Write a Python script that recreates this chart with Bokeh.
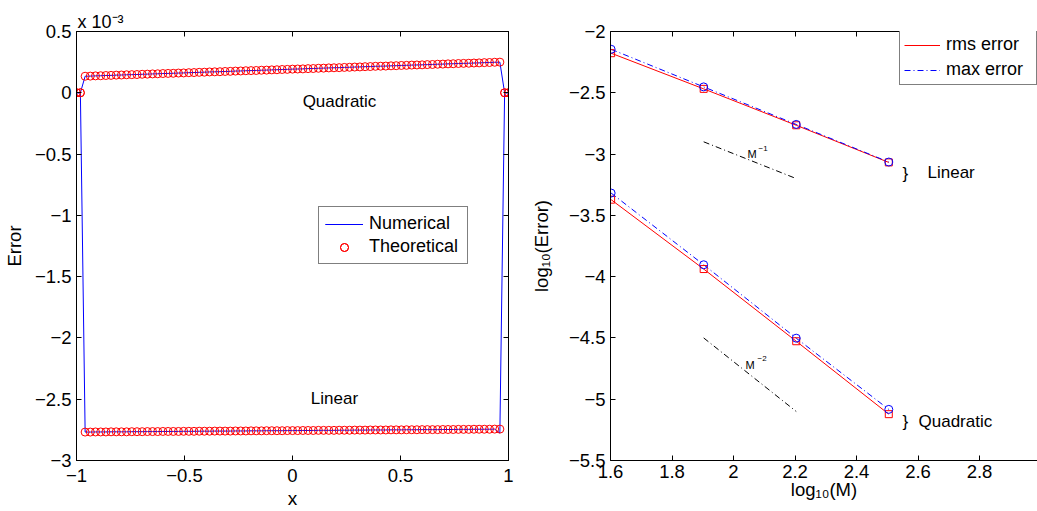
from math import pi
from bokeh.plotting import figure
from bokeh.layouts import row
from bokeh.models import (Range1d, FixedTicker, LinearAxis, Label, Legend, LegendItem,
                          CustomJSTickFormatter)
from bokeh.embed import file_html
from bokeh.resources import INLINE

FONT = "Liberation Sans"

# ---------------- data: left panel (errors in units of 1e-3) ----------------
x_boundary_left = [-1.0, -0.982]
x_boundary_right = [0.982, 1.0]
x_interior = [
    -0.960, -0.936, -0.912, -0.888, -0.864, -0.840, -0.816, -0.792, -0.768, -0.744,
    -0.720, -0.696, -0.672, -0.648, -0.624, -0.600, -0.576, -0.552, -0.528, -0.504,
    -0.480, -0.456, -0.432, -0.408, -0.384, -0.360, -0.336, -0.312, -0.288, -0.264,
    -0.240, -0.216, -0.192, -0.168, -0.144, -0.120, -0.096, -0.072, -0.048, -0.024,
    0.000,
    0.024, 0.048, 0.072, 0.096, 0.120, 0.144, 0.168, 0.192, 0.216, 0.240,
    0.264, 0.288, 0.312, 0.336, 0.360, 0.384, 0.408, 0.432, 0.456, 0.480,
    0.504, 0.528, 0.552, 0.576, 0.600, 0.624, 0.648, 0.672, 0.696, 0.720,
    0.744, 0.768, 0.792, 0.816, 0.840, 0.864, 0.888, 0.912, 0.936, 0.960,
]
boundary_err = [0.0, 0.0]
quad_theory = [
    0.135, 0.136, 0.138, 0.139, 0.141, 0.142, 0.144, 0.145, 0.147, 0.148,
    0.149, 0.151, 0.152, 0.154, 0.155, 0.157, 0.158, 0.159, 0.161, 0.162,
    0.164, 0.165, 0.167, 0.168, 0.170, 0.171, 0.172, 0.174, 0.175, 0.177,
    0.178, 0.180, 0.181, 0.182, 0.184, 0.185, 0.187, 0.188, 0.190, 0.191,
    0.193, 0.194, 0.195, 0.197, 0.198, 0.200, 0.201, 0.203, 0.204, 0.205,
    0.207, 0.208, 0.210, 0.211, 0.213, 0.214, 0.216, 0.217, 0.218, 0.220,
    0.221, 0.223, 0.224, 0.226, 0.227, 0.228, 0.230, 0.231, 0.233, 0.234,
    0.236, 0.237, 0.239, 0.240, 0.241, 0.243, 0.244, 0.246, 0.247, 0.249,
    0.250,
]
lin_theory = [
    -2.768, -2.768, -2.767, -2.767, -2.767, -2.766, -2.766, -2.766, -2.766, -2.765,
    -2.765, -2.765, -2.764, -2.764, -2.764, -2.763, -2.763, -2.763, -2.763, -2.762,
    -2.762, -2.762, -2.761, -2.761, -2.761, -2.760, -2.760, -2.760, -2.760, -2.759,
    -2.759, -2.759, -2.758, -2.758, -2.758, -2.757, -2.757, -2.757, -2.757, -2.756,
    -2.756, -2.756, -2.755, -2.755, -2.755, -2.754, -2.754, -2.754, -2.754, -2.753,
    -2.753, -2.753, -2.752, -2.752, -2.752, -2.751, -2.751, -2.751, -2.751, -2.750,
    -2.750, -2.750, -2.749, -2.749, -2.749, -2.748, -2.748, -2.748, -2.748, -2.747,
    -2.747, -2.747, -2.746, -2.746, -2.746, -2.745, -2.745, -2.745, -2.745, -2.744,
    -2.744,
]
quad_numerical = quad_theory
lin_numerical_last = -2.776  # numerical curve dips at the right end
left_xticks = [-1, -0.5, 0, 0.5, 1]
left_yticks = [-3, -2.5, -2, -1.5, -1, -0.5, 0, 0.5]

# ---------------- data: right panel (log10 errors) ----------------
log_M = [1.602, 1.903, 2.204, 2.505]
lin_rms = [-2.177, -2.468, -2.765, -3.068]
lin_max = [-2.145, -2.452, -2.758, -3.065]
quad_rms = [-3.372, -3.938, -4.527, -5.122]
quad_max = [-3.318, -3.903, -4.502, -5.083]
slope_x = [1.903, 2.204]
slope1_y = [-2.9, -3.2]
slope2_y = [-4.5, -5.1]
right_xticks = [1.6, 1.8, 2.0, 2.2, 2.4, 2.6, 2.8]
right_yticks = [-5.5, -5, -4.5, -4, -3.5, -3, -2.5, -2]

# ---------------- helpers ----------------
fmt_code = "return (tick < 0 ? '\\u2212' : '') + Math.abs(tick).toString();"
blank_code = "return '';"


def style_axis(ax, ticks, label_size="18.5px", standoff=5, show_labels=True):
    ax.ticker = FixedTicker(ticks=ticks)
    ax.major_tick_in = 5
    ax.major_tick_out = 0
    ax.minor_tick_line_color = None
    ax.axis_line_color = "black"
    ax.major_tick_line_color = "black"
    ax.major_label_text_color = "black"
    ax.major_label_text_font = FONT
    ax.axis_label_text_font = FONT
    ax.axis_label_text_font_style = "normal"
    ax.axis_label_text_color = "black"
    ax.axis_label_text_font_size = "18.5px"
    ax.major_label_text_font_size = label_size
    if show_labels:
        ax.formatter = CustomJSTickFormatter(code=fmt_code)
        ax.major_label_standoff = standoff
    else:
        ax.formatter = CustomJSTickFormatter(code=blank_code)
        ax.major_label_standoff = 0


def add_label(p, x, y, text, size, align="left", baseline="alphabetic", angle=0):
    p.add_layout(Label(x=x, y=y, text=text, text_font=FONT, text_font_size=size,
                       text_color="black", text_align=align,
                       text_baseline=baseline, angle=angle))


def style_legend(lg, loc, pad, spacing, gw, lw):
    lg.location = loc
    lg.margin = 0
    lg.padding = pad
    lg.spacing = spacing
    lg.glyph_width = gw
    lg.glyph_height = 20
    lg.label_height = 20
    lg.label_width = lw
    lg.label_standoff = 6
    lg.label_text_font = FONT
    lg.label_text_font_size = "18px"
    lg.label_text_color = "black"
    lg.border_line_color = "black"
    lg.border_line_width = 1
    lg.background_fill_color = "white"
    lg.background_fill_alpha = 1.0


# ================= left figure =================
p1 = figure(width=520, height=511, x_range=Range1d(-1, 1), y_range=Range1d(-3, 0.5),
            output_backend="svg", toolbar_location=None,
            title="x 10\u207b\u00b3",
            min_border_left=76, min_border_right=12, min_border_top=31,
            min_border_bottom=48)
p1.title.align = "left"
p1.title.offset = 1
p1.title.standoff = 0
p1.title.text_font = FONT
p1.title.text_font_size = "18px"
p1.title.text_font_style = "normal"
p1.title.text_color = "black"
p1.grid.visible = False
p1.outline_line_color = "black"
p1.background_fill_color = "white"
p1.border_fill_color = "white"
style_axis(p1.xaxis[0], left_xticks, standoff=8)
style_axis(p1.yaxis[0], left_yticks, standoff=5)
p1.xaxis[0].axis_label = "x"
p1.xaxis[0].axis_label_standoff = 3
p1.xaxis[0].axis_label_text_font_size = "19px"
p1.yaxis[0].axis_label = "Error"
p1.yaxis[0].axis_label_standoff = 7
top1 = LinearAxis()
style_axis(top1, left_xticks, show_labels=False)
p1.add_layout(top1, "above")
right1 = LinearAxis()
style_axis(right1, left_yticks, show_labels=False)
p1.add_layout(right1, "right")

x_all = x_boundary_left + x_interior + x_boundary_right
quad_num_all = boundary_err + quad_numerical + boundary_err
lin_num_all = boundary_err + lin_theory[:-1] + [lin_numerical_last] + boundary_err
quad_th_all = boundary_err + quad_theory + boundary_err
lin_th_all = boundary_err + lin_theory + boundary_err

p1.line(x_all, quad_num_all, line_color="#0000ff", line_width=1, legend_label="Numerical")
p1.line(x_all, lin_num_all, line_color="#0000ff", line_width=1, legend_label="Numerical")
p1.scatter(x_all, quad_th_all, marker="circle", size=8, fill_color=None,
           line_color="#ff0000", line_width=1, legend_label="Theoretical")
p1.scatter(x_all, lin_th_all, marker="circle", size=8, fill_color=None,
           line_color="#ff0000", line_width=1, legend_label="Theoretical")

style_legend(p1.legend[0], (242, 196), 6, 2, 38, 92)


def L(px, py):
    return (-1 + (px - 76) / 216.0, 0.5 - (py - 31) / (432 / 3.5))


add_label(p1, *L(339, 101), "Quadratic", "17px", align="center", baseline="middle")
add_label(p1, *L(334, 401), "Linear", "17px", align="center", baseline="middle")

# ================= right figure =================
p2 = figure(width=517, height=511, x_range=Range1d(1.6, 1.6 + 427 / 307.5),
            y_range=Range1d(-5.5, -2),
            output_backend="svg", toolbar_location=None,
            min_border_left=90, min_border_right=0, min_border_top=27,
            min_border_bottom=51)
p2.grid.visible = False
p2.outline_line_color = None
p2.background_fill_color = "white"
p2.border_fill_color = "white"
style_axis(p2.xaxis[0], right_xticks, standoff=4)
style_axis(p2.yaxis[0], right_yticks, standoff=5)
p2.xaxis[0].axis_label = "log\u2081\u2080(M)"
p2.xaxis[0].axis_label_standoff = -2
p2.yaxis[0].axis_label = "log\u2081\u2080(Error)"
p2.yaxis[0].axis_label_standoff = 14
top2 = LinearAxis()
style_axis(top2, right_xticks, show_labels=False)
p2.add_layout(top2, "above")

p2.line(slope_x, slope1_y, line_color="black", line_width=1, line_dash="6 3 1 3")
p2.line(slope_x, slope2_y, line_color="black", line_width=1, line_dash="6 3 1 3")
r_rms = p2.line(log_M, lin_rms, line_color="#ff0000", line_width=1)
r_max = p2.line(log_M, lin_max, line_color="#0000ff", line_width=1, line_dash="6 3 1 3")
p2.line(log_M, quad_rms, line_color="#ff0000", line_width=1)
p2.line(log_M, quad_max, line_color="#0000ff", line_width=1, line_dash="6 3 1 3")
for ys in (lin_rms, quad_rms):
    p2.scatter(log_M, ys, marker="square", size=7, fill_color=None,
               line_color="#ff0000", line_width=1)
for ys in (lin_max, quad_max):
    p2.scatter(log_M, ys, marker="circle", size=8, fill_color=None,
               line_color="#0000ff", line_width=1)

lg2 = Legend(items=[LegendItem(label="rms error", renderers=[r_rms]),
                    LegendItem(label="max error", renderers=[r_max])])
style_legend(lg2, (289, 375), 4, 4, 36, 86)
p2.add_layout(lg2, "center")


def R(px, py):
    return (1.6 + (px - 610) / 307.5, -2 - (py - 27) / (433 / 3.5))


add_label(p2, *R(747, 151), "M", "11px")
add_label(p2, *R(758, 145), "\u22121", "8px")
add_label(p2, *R(745, 364), "M", "11px")
add_label(p2, *R(757, 357), "\u22122", "8px")
add_label(p2, *R(902, 170), "}", "17px")
add_label(p2, *R(927, 169), "Linear", "17px")
add_label(p2, *R(902, 421), "}", "17px")
add_label(p2, *R(918, 421), "Quadratic", "17px")

layout = row(p1, p2)
open("out.html", "w").write(file_html(layout, INLINE))
